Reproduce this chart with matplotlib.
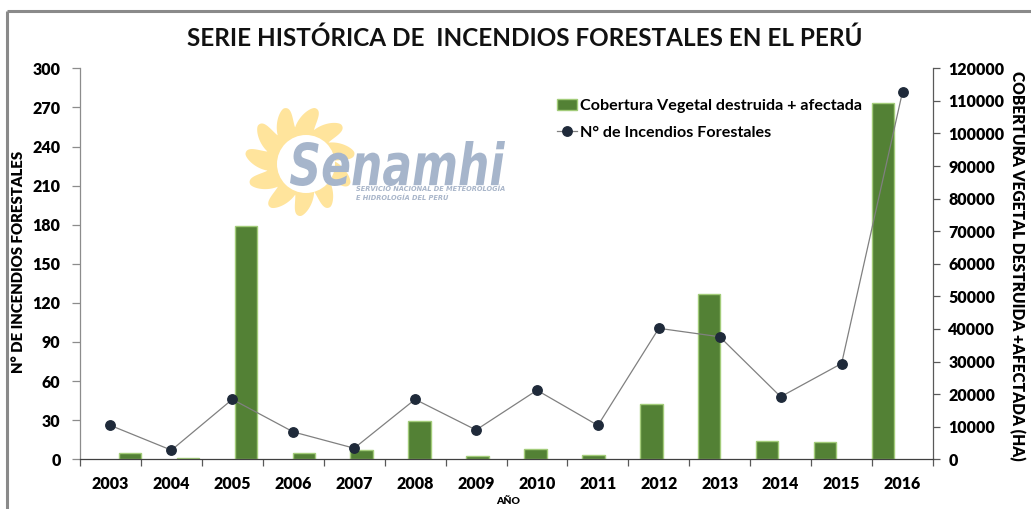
import numpy as np
import matplotlib
matplotlib.use("Agg")
import matplotlib.pyplot as plt
from matplotlib.textpath import TextPath
from matplotlib.font_manager import FontProperties
from matplotlib.patches import PathPatch, Polygon, Circle
from matplotlib.transforms import Affine2D

years = ["2003", "2004", "2005", "2006", "2007", "2008", "2009",
         "2010", "2011", "2012", "2013", "2014", "2015", "2016"]
cobertura_ha = [2000, 400, 71500, 2000, 2750, 11700, 1000,
                3100, 1400, 17000, 50700, 5600, 5400, 109500]
n_incendios = [26, 7, 46, 21, 8.5, 46, 22.5, 53, 26, 100.5, 94, 48, 73.5, 282]
left_ticks = [0, 30, 60, 90, 120, 150, 180, 210, 240, 270, 300]
right_ticks = [0, 10000, 20000, 30000, 40000, 50000, 60000,
               70000, 80000, 90000, 100000, 110000, 120000]

plt.rcParams['font.family'] = ['Lato', 'DejaVu Sans']
plt.rcParams['font.weight'] = 800

W, H = 1031, 509
fig = plt.figure(figsize=(W / 100, H / 100), dpi=100)
fig.patch.set_facecolor("white")

# ---------- decoration layer (frame + logo) in pixel coordinates ----------
deco = fig.add_axes([0, 0, 1, 1], zorder=0)
deco.set_xlim(0, W)
deco.set_ylim(H, 0)
deco.axis("off")
deco.plot([7, W], [11, 11], color="#8a8a8a", lw=2.2, solid_capstyle="butt")
deco.plot([7, 7], [11, H], color="#8a8a8a", lw=2.2, solid_capstyle="butt")

# sun with curled flame rays
cx, cy = 300, 161
t = np.linspace(0, 2 * np.pi, 2400)
nr = 11
p = (t * nr / (2 * np.pi)) % 1.0
prof = np.where(p < 0.7, np.sin(0.5 * np.pi * p / 0.7) ** 1.2,
                np.cos(0.5 * np.pi * (p - 0.7) / 0.3) ** 0.8)
rin, amp = 34, 21
r = rin + amp * prof
ang = t - 0.25 * prof
xs = cx + r * np.cos(ang)
ys = cy - r * np.sin(ang)
deco.add_patch(Polygon(np.column_stack([xs, ys]), closed=True,
                       facecolor="#ffe49c", edgecolor="none"))
deco.add_patch(Circle((cx + 6, cy + 3), 29, facecolor="white", edgecolor="none"))

# "Senamhi" text fitted into a box
fp = FontProperties(family="DejaVu Sans", weight="bold", style="italic")
tp = TextPath((0, 0), "Senamhi", prop=fp)
ext = tp.get_extents()
x0, x1, y0, y1 = 290, 505, 141, 186
sx = (x1 - x0) / ext.width
sy = (y1 - y0) / ext.height
tr = Affine2D().translate(-ext.x0, -ext.y0).scale(sx, -sy).translate(x0, y1)
deco.add_patch(PathPatch(tr.transform_path(tp), facecolor="#a6b5cb",
                         edgecolor="none"))
deco.text(356, 189, "SERVICIO NACIONAL DE METEOROLOGÍA", fontsize=4.8,
          color="#a9b6ca", style="italic", weight="bold", va="center",
          ha="left", family="DejaVu Sans")
deco.text(356, 197.5, "E HIDROLOGÍA DEL PERÚ", fontsize=4.8,
          color="#a9b6ca", style="italic", weight="bold", va="center",
          ha="left", family="DejaVu Sans")

# ---------- chart ----------
pos = [80 / W, 1 - 459.3 / H, (933 - 80) / W, (459.3 - 68.3) / H]
ax2 = fig.add_axes(pos, zorder=1)   # bars, right axis
ax = fig.add_axes(pos, zorder=2)    # line, left axis
for a in (ax, ax2):
    a.patch.set_visible(False)

x = np.arange(len(years))
bars = ax2.bar(x, cobertura_ha, width=0.39, color="#538135",
               edgecolor="#a3cc7a", linewidth=1.0,
               label="Cobertura Vegetal destruida + afectada")
ax2.set_ylim(0, 120000)
ax2.set_yticks(right_ticks)
ax2.yaxis.tick_right()
ax2.tick_params(axis="y", which="major", direction="out", length=5,
                width=0.9, color="#595959", labelsize=11.5, pad=6,
                labelcolor="black")
ax2.set_xticks([])
for s in ["top", "left", "bottom"]:
    ax2.spines[s].set_visible(False)
ax2.spines["right"].set_color("#595959")
ax2.spines["right"].set_linewidth(0.9)

line, = ax.plot(x, n_incendios, color="#808080", lw=0.9, marker="o",
                markersize=6.8, markerfacecolor="#1f2a3a",
                markeredgecolor="#1f2a3a", label="N° de Incendios Forestales")
ax.set_xlim(-0.5, len(years) - 0.5)
ax.set_ylim(0, 300)
ax.set_yticks(left_ticks)
ax.set_xticks(x)
ax.set_xticklabels(years)
ax.set_xticks(np.arange(-0.5, len(years)), minor=True)
ax.tick_params(axis="x", which="major", length=0, labelsize=11.5, pad=12)
ax.tick_params(axis="x", which="minor", direction="out", length=5,
               width=0.9, color="#595959")
ax.tick_params(axis="y", direction="out", length=6, width=0.9,
               color="#8c8c8c", labelsize=11.5, pad=8)
for s in ["top", "right"]:
    ax.spines[s].set_visible(False)
ax.spines["left"].set_color("#8c8c8c")
ax.spines["left"].set_linewidth(0.9)
ax.spines["bottom"].set_color("#404040")
ax.spines["bottom"].set_linewidth(0.9)

# Labels
fig.text(525 / W, 1 - 38 / H,
         "SERIE HISTÓRICA DE  INCENDIOS FORESTALES EN EL PERÚ",
         fontsize=17.5, weight="bold", ha="center", va="center",
         color="#111111")
fig.text(19 / W, 1 - 262 / H, "N° DE INCENDIOS FORESTALES", rotation=90,
         fontsize=10.8, ha="center", va="center")
fig.text(1017 / W, 1 - 266 / H, "COBERTURA VEGETAL DESTRUIDA +AFECTADA (HA)",
         rotation=-90, fontsize=11.2, ha="center", va="center")
fig.text(508 / W, 1 - 502 / H, "AÑO", fontsize=7.5, ha="center", va="center")

fig.legend(handles=[bars, line],
           labels=["Cobertura Vegetal destruida + afectada",
                   "N° de Incendios Forestales"],
           loc="upper left", bbox_to_anchor=(557 / W, 1 - 99 / H),
           frameon=False, handlelength=1.25,
           handletextpad=0.15, labelspacing=0.78, borderpad=0,
           borderaxespad=0, prop={"weight": "bold", "size": 11.6})

fig.savefig("out.png", dpi=100, facecolor="white")
